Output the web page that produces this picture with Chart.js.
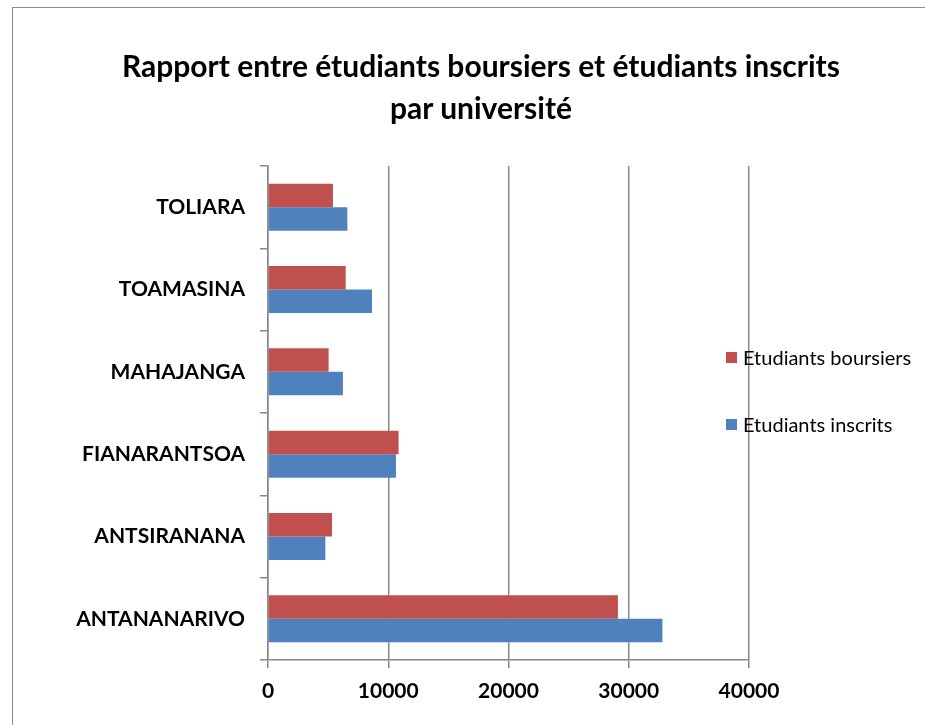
<!DOCTYPE html>
<html>
<head>
<meta charset="utf-8">
<script src="https://cdn.jsdelivr.net/npm/chart.js@4"></script>
<style>
  body { margin: 0; background: #fff; }
  #wrap { position: relative; width: 925px; height: 725px; overflow: hidden; font-family: Lato, "Open Sans", sans-serif; }
  #frame { position: absolute; left: 12px; top: 7px; width: 2000px; height: 2000px; border: 1.5px solid #8c8c8c; }
  #title { position: absolute; left: 0; top: 44px; width: 962px; text-align: center; font-weight: bold; font-size: 30px; line-height: 42px; color: #000; }
  .leg { position: absolute; left: 726px; font-size: 20px; line-height: 24px; color: #000; white-space: nowrap; }
  .leg span { display: inline-block; width: 11px; height: 11px; margin-right: 6px; vertical-align: 2px; }
  canvas { position: absolute; left: 0; top: 0; }
</style>
</head>
<body>
<div id="wrap">
  <div id="frame"></div>
  <canvas id="chart" width="925" height="725"></canvas>
  <div id="title">Rapport entre étudiants boursiers et étudiants inscrits<br>par université</div>
  <div class="leg" id="leg1" style="top:345px"></div>
  <div class="leg" id="leg2" style="top:412px"></div>
</div>
<script>
// ========== DATA ==========
const universites = ['ANTANANARIVO', 'ANTSIRANANA', 'FIANARANTSOA', 'MAHAJANGA', 'TOAMASINA', 'TOLIARA'];
const boursiers = [29100, 5320, 10860, 5040, 6460, 5400];
const inscrits = [32800, 4770, 10640, 6230, 8650, 6600];
const xTicks = [0, 10000, 20000, 30000, 40000];

const RED = '#C0504D';
const BLUE = '#4F81BD';
const GRID = '#888888';

// legende (HTML, par-dessus la grille comme dans l'original)
document.getElementById('leg1').innerHTML = `<span style="background:${RED}"></span>Etudiants boursiers`;
document.getElementById('leg2').innerHTML = `<span style="background:${BLUE}"></span>Etudiants inscrits`;

// ========== CHART ==========
new Chart(document.getElementById('chart'), {
  type: 'bar',
  data: {
    labels: universites,
    datasets: [
      { label: 'Etudiants boursiers', data: boursiers, backgroundColor: RED },
      { label: 'Etudiants inscrits', data: inscrits, backgroundColor: BLUE }
    ]
  },
  options: {
    indexAxis: 'y',
    responsive: false,
    animation: false,
    categoryPercentage: 0.57,
    barPercentage: 1.0,
    layout: { padding: { top: 166, right: 176, left: 0, bottom: 0 } },
    plugins: { legend: { display: false }, title: { display: false }, tooltip: { enabled: false } },
    scales: {
      x: {
        min: 0,
        max: 40000,
        afterFit: s => { s.height = 65; },
        afterBuildTicks: s => { s.ticks = xTicks.map(v => ({ value: v })); },
        grid: { color: GRID, lineWidth: 1.5, tickLength: 8 },
        border: { color: GRID, width: 1.5 },
        ticks: {
          color: '#000',
          padding: 11,
          font: { family: 'Lato', size: 21, weight: 'bold' },
          callback: v => String(v)
        }
      },
      y: {
        reverse: true,
        afterFit: s => { s.width = 268; },
        grid: { drawOnChartArea: false, color: GRID, lineWidth: 1.5, tickLength: 8 },
        border: { color: GRID, width: 1.5 },
        ticks: { color: '#000', padding: 15, font: { family: 'Lato', size: 21, weight: 'bold' } }
      }
    }
  }
});
</script>
</body>
</html>
